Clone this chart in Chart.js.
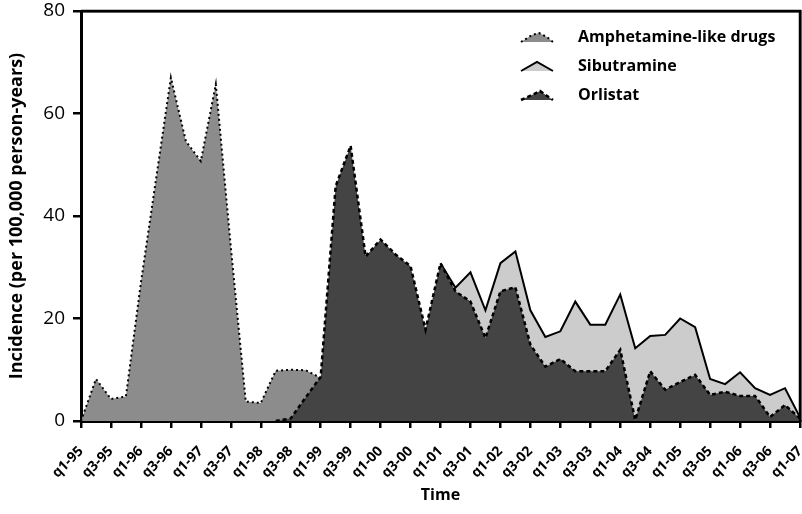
<!DOCTYPE html>
<html>
<head>
<meta charset="utf-8">
<script src="https://cdn.jsdelivr.net/npm/chart.js@4.4.1/dist/chart.umd.min.js"></script>
<style>
  html, body { margin: 0; padding: 0; background: #fff; }
  #c { display: block; }
</style>
</head>
<body>
<canvas id="c" width="802" height="514"></canvas>
<script>
const quarters = [
  'q1-95','q2-95','q3-95','q4-95','q1-96','q2-96','q3-96','q4-96',
  'q1-97','q2-97','q3-97','q4-97','q1-98','q2-98','q3-98','q4-98',
  'q1-99','q2-99','q3-99','q4-99','q1-00','q2-00','q3-00','q4-00',
  'q1-01','q2-01','q3-01','q4-01','q1-02','q2-02','q3-02','q4-02',
  'q1-03','q2-03','q3-03','q4-03','q1-04','q2-04','q3-04','q4-04',
  'q1-05','q2-05','q3-05','q4-05','q1-06','q2-06','q3-06','q4-06',
  'q1-07'
];

const amphetamine = [
  0, 8.2, 4.3, 4.8, 27, 47, 67, 54.6, 50.7, 65.7, 34, 3.8, 3.5, 9.8, 10, 9.9,
  8.4, null, null, null, null, null, null, null, null, null, null, null, null, null, null, null,
  null, null, null, null, null, null, null, null, null, null, null, null, null, null, null, null,
  null
];

const sibutramine = [
  null, null, null, null, null, null, null, null, null, null, null, null, null, null, null, null,
  null, null, null, null, null, null, null, null, 30.8, 26, 29.0, 21.6, 30.8, 33.1, 21.6, 16.4,
  17.5, 23.3, 18.8, 18.8, 24.7, 14.2, 16.6, 16.8, 20.0, 18.3, 8.2, 7.2, 9.5, 6.4, 5.1, 6.4,
  0.7
];

const orlistat = [
  null, null, null, null, null, null, null, null, null, null, null, null, null, 0, 0.5, 4.6,
  8.6, 45.8, 53.7, 32.1, 35.4, 32.5, 30.2, 17.8, 30.8, 25.3, 23.3, 16.2, 25.3, 26.1, 14.9, 10.6,
  12.1, 9.7, 9.7, 9.7, 13.9, 0.2, 9.7, 6.1, 7.6, 9.0, 5.1, 5.7, 4.9, 4.9, 0.8, 3.1,
  0.5
];

const yTicks = [0, 20, 40, 60, 80];
const seriesNames = ['Amphetamine-like drugs', 'Sibutramine', 'Orlistat'];

const FONT = "'Open Sans', 'DejaVu Sans', sans-serif";
const C_AMPH = '#8c8c8c';
const C_SIB = '#cccccc';
const C_ORL = '#444444';

// frame + legend inside the plot area (top right)
const legendPlugin = {
  id: 'innerLegend',
  afterDraw(chart) {
    const {ctx, chartArea: a} = chart;
    ctx.save();
    ctx.setLineDash([]);
    ctx.strokeStyle = '#000000';
    ctx.lineWidth = 2.5;
    ctx.beginPath();
    ctx.moveTo(a.left, a.top);
    ctx.lineTo(a.right, a.top);
    ctx.lineTo(a.right, a.bottom);
    ctx.stroke();

    const mx = a.right - 279;
    const tx = a.right - 222;
    const rows = [a.top + 26, a.top + 55, a.top + 84];
    const shapes = [
      {pts: [[0,5],[11,-2],[18,-4],[26,0],[32,5]], fill: C_AMPH, dash: [2,3], w: 2},
      {pts: [[0,5],[16,-4],[32,5]], fill: C_SIB, dash: [], w: 2},
      {pts: [[0,5],[13,-1],[19,-4],[32,5]], fill: C_ORL, dash: [4,3], w: 2.5}
    ];
    shapes.forEach((s, i) => {
      const y = rows[i];
      ctx.beginPath();
      s.pts.forEach((p, k) => {
        if (k === 0) ctx.moveTo(mx + p[0], y + p[1]);
        else ctx.lineTo(mx + p[0], y + p[1]);
      });
      ctx.closePath();
      ctx.fillStyle = s.fill;
      ctx.fill();
      ctx.beginPath();
      s.pts.forEach((p, k) => {
        if (k === 0) ctx.moveTo(mx + p[0], y + p[1]);
        else ctx.lineTo(mx + p[0], y + p[1]);
      });
      ctx.setLineDash(s.dash);
      ctx.lineWidth = s.w;
      ctx.strokeStyle = '#000';
      ctx.stroke();
      ctx.setLineDash([]);
      ctx.fillStyle = '#000';
      ctx.font = 'bold 16px ' + FONT;
      ctx.textAlign = 'left';
      ctx.textBaseline = 'middle';
      ctx.fillText(seriesNames[i], tx, y);
    });
    ctx.restore();
  }
};

new Chart(document.getElementById('c'), {
  type: 'line',
  data: {
    labels: quarters,
    datasets: [
      {
        label: seriesNames[2],
        data: orlistat,
        fill: 'origin',
        backgroundColor: C_ORL,
        borderColor: '#000',
        borderWidth: 2.5,
        borderDash: [4, 3],
        pointRadius: 0,
        tension: 0,
        spanGaps: false
      },
      {
        label: seriesNames[1],
        data: sibutramine,
        fill: 'origin',
        backgroundColor: C_SIB,
        borderColor: '#000',
        borderWidth: 2,
        pointRadius: 0,
        tension: 0,
        spanGaps: false
      },
      {
        label: seriesNames[0],
        data: amphetamine,
        fill: 'origin',
        backgroundColor: C_AMPH,
        borderColor: '#000',
        borderWidth: 2,
        borderDash: [2, 3],
        pointRadius: 0,
        tension: 0,
        spanGaps: false
      }
    ]
  },
  options: {
    responsive: false,
    animation: false,
    devicePixelRatio: 1,
    layout: { padding: { top: 11, right: 2, left: 0, bottom: 0 } },
    plugins: {
      legend: { display: false },
      tooltip: { enabled: false }
    },
    scales: {
      x: {
        type: 'category',
        offset: false,
        grid: { display: true, drawOnChartArea: false, drawTicks: true, tickLength: 7, tickWidth: 2.5, tickColor: '#000', color: '#000', lineWidth: 2.5 },
        border: { display: true, color: '#000', width: 3 },
        ticks: {
          autoSkip: false,
          maxRotation: 45,
          minRotation: 45,
          padding: 15,
          color: '#000',
          font: { family: FONT, size: 14, weight: 'bold' },
          callback: function(val, index) { return index % 2 === 0 ? quarters[index] : null; }
        },
        title: {
          display: true,
          text: 'Time',
          color: '#000',
          font: { family: FONT, size: 16, weight: 'bold' },
          padding: { top: 0, bottom: 9 }
        },
        afterFit: (s) => { s.height = 93; s.paddingLeft = 0; s.paddingRight = 0; }
      },
      x2: {
        type: 'category',
        position: 'top',
        offset: false,
        grid: { display: false, drawTicks: false },
        border: { display: true, color: '#000', width: 2.5 },
        ticks: { display: false },
        afterFit: (s) => { s.height = 0; s.paddingLeft = 0; s.paddingRight = 0; }
      },
      y: {
        min: 0,
        max: 80,
        afterBuildTicks: (s) => { s.ticks = yTicks.map(v => ({ value: v })); },
        grid: { display: true, drawOnChartArea: false, drawTicks: true, tickLength: 8, tickWidth: 2.5, tickColor: '#000', color: '#000', lineWidth: 2.5 },
        border: { display: true, color: '#000', width: 3 },
        ticks: {
          padding: 8,
          color: '#000',
          font: { family: FONT, size: 19 }
        },
        title: {
          display: true,
          text: 'Incidence (per 100,000 person-years)',
          color: '#000',
          font: { family: FONT, size: 18, weight: 'bold' },
          padding: { top: 6, bottom: 0 }
        },
        afterFit: (s) => { s.width = 81; s.paddingTop = 0; s.paddingBottom = 0; }
      },
      y2: {
        position: 'right',
        min: 0,
        max: 80,
        grid: { display: false, drawTicks: false },
        border: { display: true, color: '#000', width: 2.5 },
        ticks: { display: false },
        afterFit: (s) => { s.width = 0; s.paddingTop = 0; s.paddingBottom = 0; }
      }
    }
  },
  plugins: [legendPlugin]
});
</script>
</body>
</html>
